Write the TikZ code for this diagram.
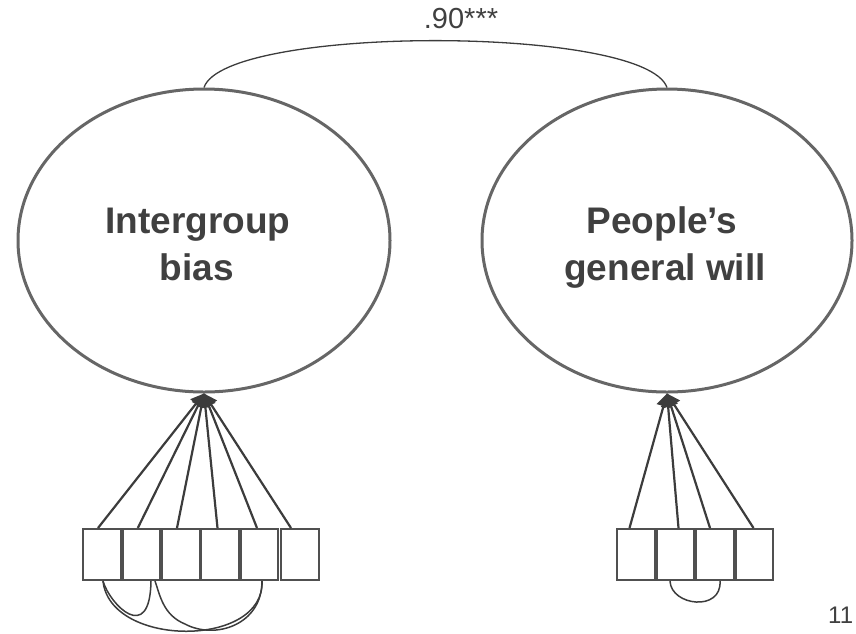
\documentclass[tikz,border=0pt]{standalone}
\usepackage{fontspec}
\setmainfont{Liberation Sans}
\usetikzlibrary{shapes.geometric,arrows.meta}
\definecolor{txt}{HTML}{404040}
\definecolor{ell}{HTML}{666666}
\definecolor{ln}{HTML}{3C3C3C}
\begin{document}
\begin{tikzpicture}[x=1pt,y=-1pt,
  latent/.style={ellipse,draw=ell,line width=3pt,inner sep=0pt},
  lbl/.style={text=txt,font={\bfseries\fontsize{37}{47}\selectfont},anchor=base,inner sep=0pt},
  item/.style={rectangle,draw=ln!90,line width=2pt,minimum width=37.5pt,minimum height=51pt,inner sep=0pt},
  load/.style={draw=ln,line width=2.2pt,-{Triangle[length=13pt,width=14pt]}},
  cov/.style={draw=ln,line width=1.5pt},
  plain/.style={text=txt,inner sep=0pt,anchor=base}]
\useasboundingbox (0,0) rectangle (856,633);
% latent variables
\node[latent,minimum width=372pt,minimum height=303pt] (L) at (204,240.5) {};
\node[latent,minimum width=370pt,minimum height=303pt] (R) at (667,240.5) {};
\node[lbl] (L1) at (198,233) {Intergroup};
\node[lbl] (L2) at (197,280) {bias};
\node[lbl] (R1) at (662,233) {People’s};
\node[lbl] (R2) at (665,280) {general will};
% correlation
\draw[draw=ln,line width=1.3pt] (L.north) .. controls (225,25) and (645,25) .. (R.north);
\node[plain,font={\fontsize{29}{32}\selectfont}] (corr) at (461,28) {.90***};
% left indicators
\foreach \i/\x in {1/102,2/141.5,3/181,4/220,5/259.5,6/300}
  \node[item] (a\i) at (\x,554.5) {};
\foreach \i/\s in {1/-4,2/-3.7,3/-4,4/-2.5,5/-2.5,6/-9}
  \draw[load] ([xshift=\s]a\i.north) -- (L.south);
% right indicators
\foreach \i/\x in {1/636,2/675.5,3/715,4/754.5}
  \node[item] (b\i) at (\x,554.5) {};
\foreach \i/\s in {1/-6.5,2/3,3/-5,4/-1}
  \draw[load] ([xshift=\s]b\i.north) -- (R.south);
% residual covariances
\draw[cov] ([xshift=1]a1.south) .. controls (110,605) and (150,645) .. ([xshift=9.5]a2.south);
\draw[cov] ([xshift=1]a1.south) .. controls (110,648) and (265,648) .. ([xshift=2.5]a5.south);
\draw[cov] ([xshift=13.5]a2.south) .. controls (160,595) and (163,615) .. (185,624)
  .. controls (215,640) and (262,625) .. ([xshift=2.5]a5.south);
\draw[cov] ([xshift=-5.5]b2.south) .. controls (671,606) and (722,612) .. ([xshift=5]b3.south);
% page number
\node[plain,anchor=base west,font={\fontsize{24}{27}\selectfont}] (pg) at (828,623) {11};
\end{tikzpicture}
\end{document}
